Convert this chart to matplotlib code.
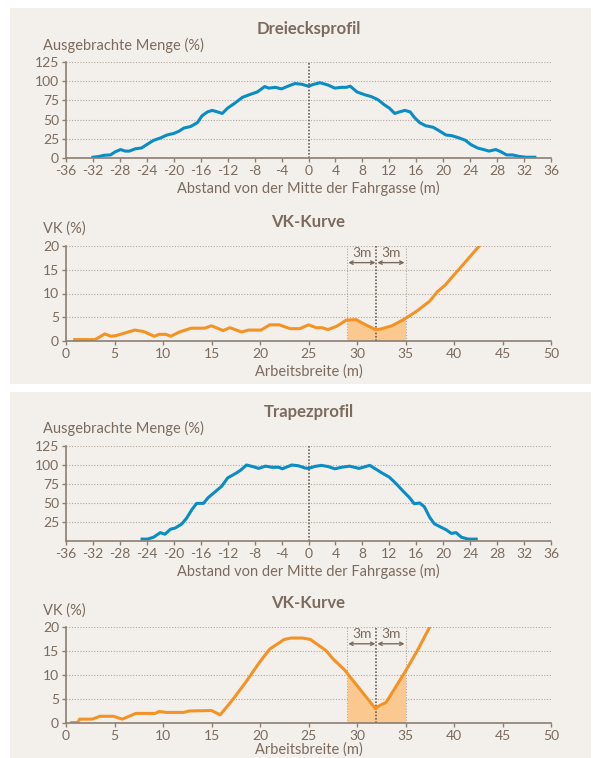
import numpy as np
import matplotlib
matplotlib.use("Agg")
import matplotlib.pyplot as plt
from matplotlib.patches import Rectangle

plt.rcParams["font.family"] = ["Lato", "DejaVu Sans"]
plt.rcParams["axes.unicode_minus"] = False

BG    = "#f3efeb"
TXT   = "#7b6b5e"
AXC   = "#8c7f73"
GRID  = "#b3a89e"
BLUE  = "#0a8cc4"
ORNG  = "#f39325"
FILL  = "#fbc98f"

# Dreiecksprofil
tri_x = [-32, -31.1, -30.4, -29.4, -28.7, -27.9, -27.2, -26.6, -25.7, -24.8, -24, -23, -22, -21,
         -20, -19.2, -18.5, -17.5, -16.5, -15.8, -15, -14.3, -13.5, -12.8, -12, -11, -9.8, -8.6,
         -7.6, -6.5, -5.9, -4.9, -4, -2.9, -2, -1, 0, 0.6, 1.7, 2.9, 3.9, 4.9, 5.6, 6.2, 7.2, 8.3,
         9.3, 10.3, 11.3, 12, 12.8, 13.5, 14.3, 15.1, 15.7, 16.5, 17.4, 18.5, 19.3, 20.4, 21.3,
         22.4, 23.3, 24.1, 25.1, 26, 26.8, 27.8, 28.6, 29.4, 30.3, 31.3, 32.3, 33.6]
tri_y = [1, 2, 3.5, 4, 8, 11, 9, 9, 12, 13, 17.5, 23, 26, 30,
         32, 35, 39, 41, 46, 55, 60, 62, 60, 58, 65, 71, 79, 83,
         86, 93, 91, 92, 90, 94, 97, 96, 93.5, 95.5, 98, 95, 91, 92, 92, 93.5, 86, 82.5,
         80, 76, 69, 65, 58, 60, 62, 60, 53, 46, 42, 40, 36, 30, 29,
         26, 23, 17.5, 13, 11, 9, 11, 8, 4, 4, 2, 1, 1]

# Trapezprofil
trap_x = [-24.7, -23.9, -23, -22, -21.3, -20.5, -19.8, -18.8, -18.1, -17.3, -16.6, -15.6, -14.9,
          -13.9, -12.9, -12, -10.8, -10.1, -9.2, -8.1, -7.4, -6.4, -5.4, -4.4, -3.9, -2.9, -2.5,
          -1.5, -0.5, 0, 0.9, 1.9, 2.9, 3.9, 4.9, 6.1, 7.5, 9.1, 10.1, 11, 12, 13, 14, 15, 15.7,
          16.5, 17.2, 18, 18.7, 19.7, 20.4, 21.2, 21.9, 22.7, 23.7, 24.9]
trap_y = [2.5, 2.5, 5, 11, 9, 15.5, 17, 22.5, 30, 41.5, 49.5, 49.5, 57,
          64.5, 72, 83, 89, 93, 100, 97.5, 95.5, 98.5, 97, 97, 95, 98.5, 100,
          99, 96, 95.5, 98, 99.5, 98, 95, 97, 98.5, 95.5, 99.5, 94, 89, 84, 75.5, 66, 57, 49,
          50, 45, 31, 22.5, 18, 15, 10, 11, 5, 2.5, 2.5]

# VK-Kurven
vk1_x = [0.9, 3.0, 4.0, 4.6, 5.1, 6.1, 7.1, 8.0, 9.1, 9.6, 10.3, 10.8, 11.7, 12.3, 12.9, 14.3,
         15.0, 16.2, 16.9, 18.1, 18.8, 20.1, 21.0, 22.0, 23.1, 24.1, 25.0, 25.8, 26.4, 27.0,
         27.9, 28.9, 29.9, 30.9, 31.9, 32.4, 33.6, 34.8, 36.1, 37.5, 38.3, 39.1, 40.0, 41.2, 42.6]
vk1_y = [0.3, 0.3, 1.5, 1.0, 1.1, 1.7, 2.3, 2.0, 1.0, 1.4, 1.4, 1.0, 1.9, 2.3, 2.7, 2.7,
         3.2, 2.2, 2.8, 1.9, 2.3, 2.3, 3.4, 3.4, 2.6, 2.6, 3.4, 2.8, 2.8, 2.4,
         3.1, 4.4, 4.5, 3.4, 2.4, 2.5, 3.2, 4.5, 6.2, 8.4, 10.4, 11.8, 13.9, 16.7, 20]

vk2_x = [0.6, 1.2, 1.4, 2.7, 3.5, 4.9, 5.8, 7.2, 9.2, 9.6, 10.4, 12.1, 12.7, 15.0, 15.9, 17.2,
         18.6, 19.9, 21.0, 22.5, 23.2, 24.4, 25.2, 26.8, 27.6, 28.7, 31.9, 32.3, 33.0, 35.0,
         36.2, 37.5]
vk2_y = [0.1, 0.1, 0.8, 0.8, 1.4, 1.4, 0.8, 2.0, 2.0, 2.4, 2.2, 2.2, 2.5, 2.6, 1.7, 4.9,
         8.7, 12.5, 15.4, 17.4, 17.7, 17.7, 17.4, 15.1, 13.2, 11.1, 3.0, 3.6, 4.3, 10.8,
         15.0, 20]

profile_ticks = list(range(-36, 37, 4))
vk_ticks      = list(range(0, 51, 5))
vk_mid, vk_span = 32, 3

W, H = 593, 758


def box(l, t, r, b):
    # pixel box -> figure fraction [left, bottom, width, height]
    return [l / W, 1 - b / H, (r - l) / W, (b - t) / H]


def style(ax):
    ax.set_facecolor("none")
    for s in ["top", "right"]:
        ax.spines[s].set_visible(False)
    for s in ["left", "bottom"]:
        ax.spines[s].set_color(AXC)
        ax.spines[s].set_linewidth(1.2)
    ax.tick_params(colors=AXC, labelcolor=TXT, labelsize=10, length=3, width=1, pad=2)
    ax.grid(axis="y", linestyle=(0, (1, 1.5)), color=GRID, lw=0.8)
    ax.set_axisbelow(True)


def profile(ax, x, y, yticks):
    style(ax)
    ax.plot(x, y, color=BLUE, lw=2.2, solid_joinstyle="round")
    ax.axvline(0, color="#6d5f55", linestyle=(0, (1, 1)), lw=1.2)
    ax.set_xlim(-36, 36)
    ax.set_ylim(0, 125)
    ax.set_xticks(profile_ticks)
    ax.set_yticks(yticks)
    ax.set_xlabel("Abstand von der Mitte der Fahrgasse (m)", color=TXT, fontsize=10.5, labelpad=3)


def vk(ax, x, y, pad=3):
    style(ax)
    xs = np.linspace(vk_mid - vk_span, vk_mid + vk_span, 200)
    ax.fill_between(xs, 0, np.interp(xs, x, y), color=FILL, lw=0)
    for xv in (vk_mid - vk_span, vk_mid + vk_span):
        ax.axvline(xv, color=GRID, linestyle=(0, (1, 1.5)), lw=0.8)
    ax.axvline(vk_mid, color="#6d5f55", linestyle=(0, (1, 1)), lw=1.2)
    ax.plot(x, y, color=ORNG, lw=2.2, solid_joinstyle="round")
    for a, b in ((vk_mid - vk_span, vk_mid), (vk_mid, vk_mid + vk_span)):
        ax.annotate("", xy=(a + 0.1, 16.5), xytext=(b - 0.1, 16.5),
                    arrowprops=dict(arrowstyle="<->", color=TXT, lw=1, mutation_scale=6,
                                    shrinkA=0, shrinkB=0))
        ax.text((a + b) / 2, 17.2, "3m", color=TXT, fontsize=10, ha="center", va="bottom")
    ax.set_xlim(0, 50)
    ax.set_ylim(0, 20)
    ax.set_xticks(vk_ticks)
    ax.set_yticks([0, 5, 10, 15, 20])
    ax.set_xlabel("Arbeitsbreite (m)", color=TXT, fontsize=10.5, labelpad=pad)


fig = plt.figure(figsize=(W / 100, H / 100), dpi=100)
fig.patch.set_facecolor("white")
fig.add_artist(Rectangle((10 / W, 1 - 384 / H), 581 / W, 376 / H, transform=fig.transFigure,
                         facecolor=BG, edgecolor="none", zorder=0))
fig.add_artist(Rectangle((10 / W, 0), 581 / W, 1 - 392 / H, transform=fig.transFigure,
                         facecolor=BG, edgecolor="none", zorder=0))

ax1 = fig.add_axes(box(66, 62, 551, 158))
profile(ax1, tri_x, tri_y, [0, 25, 50, 75, 100, 125])
ax2 = fig.add_axes(box(66, 246, 551, 341))
vk(ax2, vk1_x, vk1_y)
ax3 = fig.add_axes(box(66, 446, 551, 541))
profile(ax3, trap_x, trap_y, [25, 50, 75, 100, 125])
ax4 = fig.add_axes(box(66, 627, 551, 723))
vk(ax4, vk2_x, vk2_y, pad=0.5)

for title, yt in (("Dreiecksprofil", 29), ("VK-Kurve", 222), ("Trapezprofil", 412), ("VK-Kurve", 603)):
    fig.text(308.5 / W, 1 - yt / H, title, color=TXT, fontsize=12, fontweight="bold",
             ha="center", va="center")
for lab, yt in (("Ausgebrachte Menge (%)", 45), ("VK (%)", 229), ("Ausgebrachte Menge (%)", 428), ("VK (%)", 611)):
    fig.text(43 / W, 1 - yt / H, lab, color=TXT, fontsize=10.5, ha="left", va="center")

fig.savefig("out.png", dpi=100, facecolor="white")
